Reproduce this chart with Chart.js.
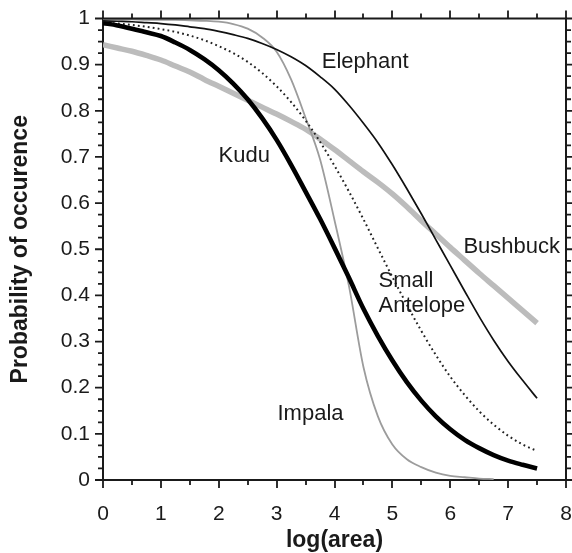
<!DOCTYPE html>
<html><head><meta charset="utf-8">
<script src="https://cdn.jsdelivr.net/npm/chart.js@4.4.0/dist/chart.umd.min.js"></script>
<style>html,body{margin:0;padding:0;background:#fff;}</style>
</head><body>
<canvas id="c" width="572" height="553"></canvas>
<script>
// ---- data ----
const logArea = [0,0.25,0.5,0.75,1,1.25,1.5,1.75,2,2.25,2.5,2.75,3,3.25,3.5,3.75,4,4.25,4.5,4.75,5,5.25,5.5,5.75,6,6.25,6.5,6.75,7,7.25,7.5];
const elephant = [0.995,0.994,0.993,0.991,0.989,0.986,0.982,0.978,0.972,0.965,0.957,0.946,0.933,0.917,0.898,0.874,0.847,0.812,0.773,0.731,0.683,0.631,0.577,0.521,0.465,0.409,0.354,0.303,0.257,0.216,0.177];
const kudu = [0.99,0.985,0.978,0.97,0.962,0.948,0.932,0.912,0.888,0.859,0.825,0.784,0.737,0.683,0.625,0.566,0.503,0.438,0.371,0.312,0.259,0.212,0.172,0.138,0.11,0.087,0.069,0.054,0.042,0.033,0.025];
const smallAntelope = [0.991,0.989,0.986,0.982,0.977,0.971,0.963,0.953,0.94,0.925,0.906,0.882,0.853,0.819,0.779,0.733,0.681,0.625,0.565,0.502,0.44,0.38,0.323,0.271,0.224,0.184,0.149,0.12,0.096,0.077,0.063];
const impala = [0.998,0.998,0.998,0.997,0.997,0.997,0.996,0.995,0.993,0.988,0.978,0.959,0.928,0.868,0.785,0.695,0.563,0.42,0.245,0.138,0.077,0.045,0.028,0.016,0.009,0.006,0.003,0.002,null,null,null];
const bushbuck = [0.943,0.936,0.929,0.92,0.91,0.897,0.884,0.868,0.853,0.838,0.823,0.808,0.793,0.777,0.76,0.739,0.716,0.692,0.668,0.645,0.62,0.592,0.562,0.533,0.504,0.476,0.448,0.421,0.394,0.367,0.34];
const seriesNames = ['Elephant','Kudu','Small Antelope','Impala','Bushbuck'];
const xTickValues = [0,1,2,3,4,5,6,7,8];
const xTickLabels = ['0','1','2','3','4','5','6','7','8'];
const yTickValues = [0,0.1,0.2,0.3,0.4,0.5,0.6,0.7,0.8,0.9,1];
const yTickLabels = ['0','0.1','0.2','0.3','0.4','0.5','0.6','0.7','0.8','0.9','1'];

// ---- styles ----
const INK = '#1a1a1a';
const FAMILY = "'Liberation Sans', Arial, sans-serif";
function pts(ys){ return logArea.map((x,i)=>({x:x, y:ys[i]})); }

const annotations = [
  {text:'Elephant', x:3.78, y:0.893},
  {text:'Kudu', x:1.996, y:0.69},
  {text:'Bushbuck', x:6.228, y:0.491},
  {text:'Small', x:4.76, y:0.419},
  {text:'Antelope', x:4.76, y:0.365},
  {text:'Impala', x:3.015, y:0.130}
];

const decor = {
  id:'decor',
  afterDatasetsDraw(chart){
    const ctx = chart.ctx, a = chart.chartArea;
    const sx = chart.scales.x, sy = chart.scales.y;
    ctx.save();
    ctx.strokeStyle = INK;
    // top and right frame
    ctx.lineWidth = 2;
    ctx.beginPath();
    ctx.moveTo(a.left-1, a.top); ctx.lineTo(a.right+1, a.top);
    ctx.moveTo(a.right, a.top-1); ctx.lineTo(a.right, a.bottom+1);
    ctx.stroke();
    // tick marks
    ctx.lineWidth = 1.8;
    ctx.beginPath();
    for (let k=0;k<=16;k++){
      const v = k/2, px = Math.round(sx.getPixelForValue(v));
      const len = (k%2===0)?8:5;
      ctx.moveTo(px, a.bottom); ctx.lineTo(px, a.bottom+len);
      ctx.moveTo(px, a.top); ctx.lineTo(px, a.top-len);
    }
    for (let k=0;k<=40;k++){
      const v = k/40, py = sy.getPixelForValue(v);
      const len = (k%4===0)?8:5;
      ctx.moveTo(a.left, py); ctx.lineTo(a.left-len, py);
      ctx.moveTo(a.right, py); ctx.lineTo(a.right+len, py);
    }
    ctx.stroke();
    // in-plot labels
    ctx.fillStyle = INK;
    ctx.font = "22px " + FAMILY;
    ctx.textAlign = 'left';
    ctx.textBaseline = 'alphabetic';
    annotations.forEach(t=>{
      ctx.fillText(t.text, sx.getPixelForValue(t.x), sy.getPixelForValue(t.y));
    });
    ctx.restore();
  }
};

new Chart(document.getElementById('c'), {
  type:'line',
  data:{
    datasets:[
      {label:seriesNames[0], data:pts(elephant), borderColor:'#111', borderWidth:1.7},
      {label:seriesNames[1], data:pts(kudu), borderColor:'#000', borderWidth:4.6},
      {label:seriesNames[2], data:pts(smallAntelope), borderColor:'#222', borderWidth:2, borderDash:[1.8,3.2]},
      {label:seriesNames[3], data:pts(impala), borderColor:'#9c9c9c', borderWidth:1.8},
      {label:seriesNames[4], data:pts(bushbuck), borderColor:'#bcbcbc', borderWidth:5.5}
    ]
  },
  options:{
    responsive:false,
    devicePixelRatio:1,
    animation:false,
    events:[],
    elements:{point:{radius:0}, line:{cubicInterpolationMode:'monotone', fill:false}},
    layout:{padding:{left:0, right:6, top:18.5, bottom:0}},
    plugins:{legend:{display:false}, tooltip:{enabled:false}},
    scales:{
      x:{
        type:'linear', min:0, max:8,
        afterBuildTicks(s){ s.ticks = xTickValues.map(v=>({value:v})); },
        afterFit(s){ s.height = 73; s.paddingLeft = 0; s.paddingRight = 0; },
        grid:{display:false, drawTicks:false},
        border:{display:true, color:INK, width:2},
        ticks:{padding:21.5, color:INK, autoSkip:false, maxRotation:0, font:{family:FAMILY, size:21},
          callback:(v,i)=>xTickLabels[i]},
        title:{display:true, text:'log(area)', color:INK, padding:{top:0,bottom:1},
          font:{family:FAMILY, size:23, weight:'bold', lineHeight:1}}
      },
      y:{
        type:'linear', min:0, max:1,
        afterBuildTicks(s){ s.ticks = yTickValues.map(v=>({value:v})); },
        afterFit(s){ s.width = 103; s.paddingTop = 0; s.paddingBottom = 0; },
        grid:{display:false, drawTicks:false},
        border:{display:true, color:INK, width:2},
        ticks:{padding:13, color:INK, autoSkip:false, font:{family:FAMILY, size:21},
          callback:(v,i)=>yTickLabels[i]},
        title:{display:true, text:'Probability of occurence', color:INK, padding:{top:9.5,bottom:0},
          font:{family:FAMILY, size:23, weight:'bold', lineHeight:1}}
      }
    }
  },
  plugins:[decor]
});
</script>
</body></html>
